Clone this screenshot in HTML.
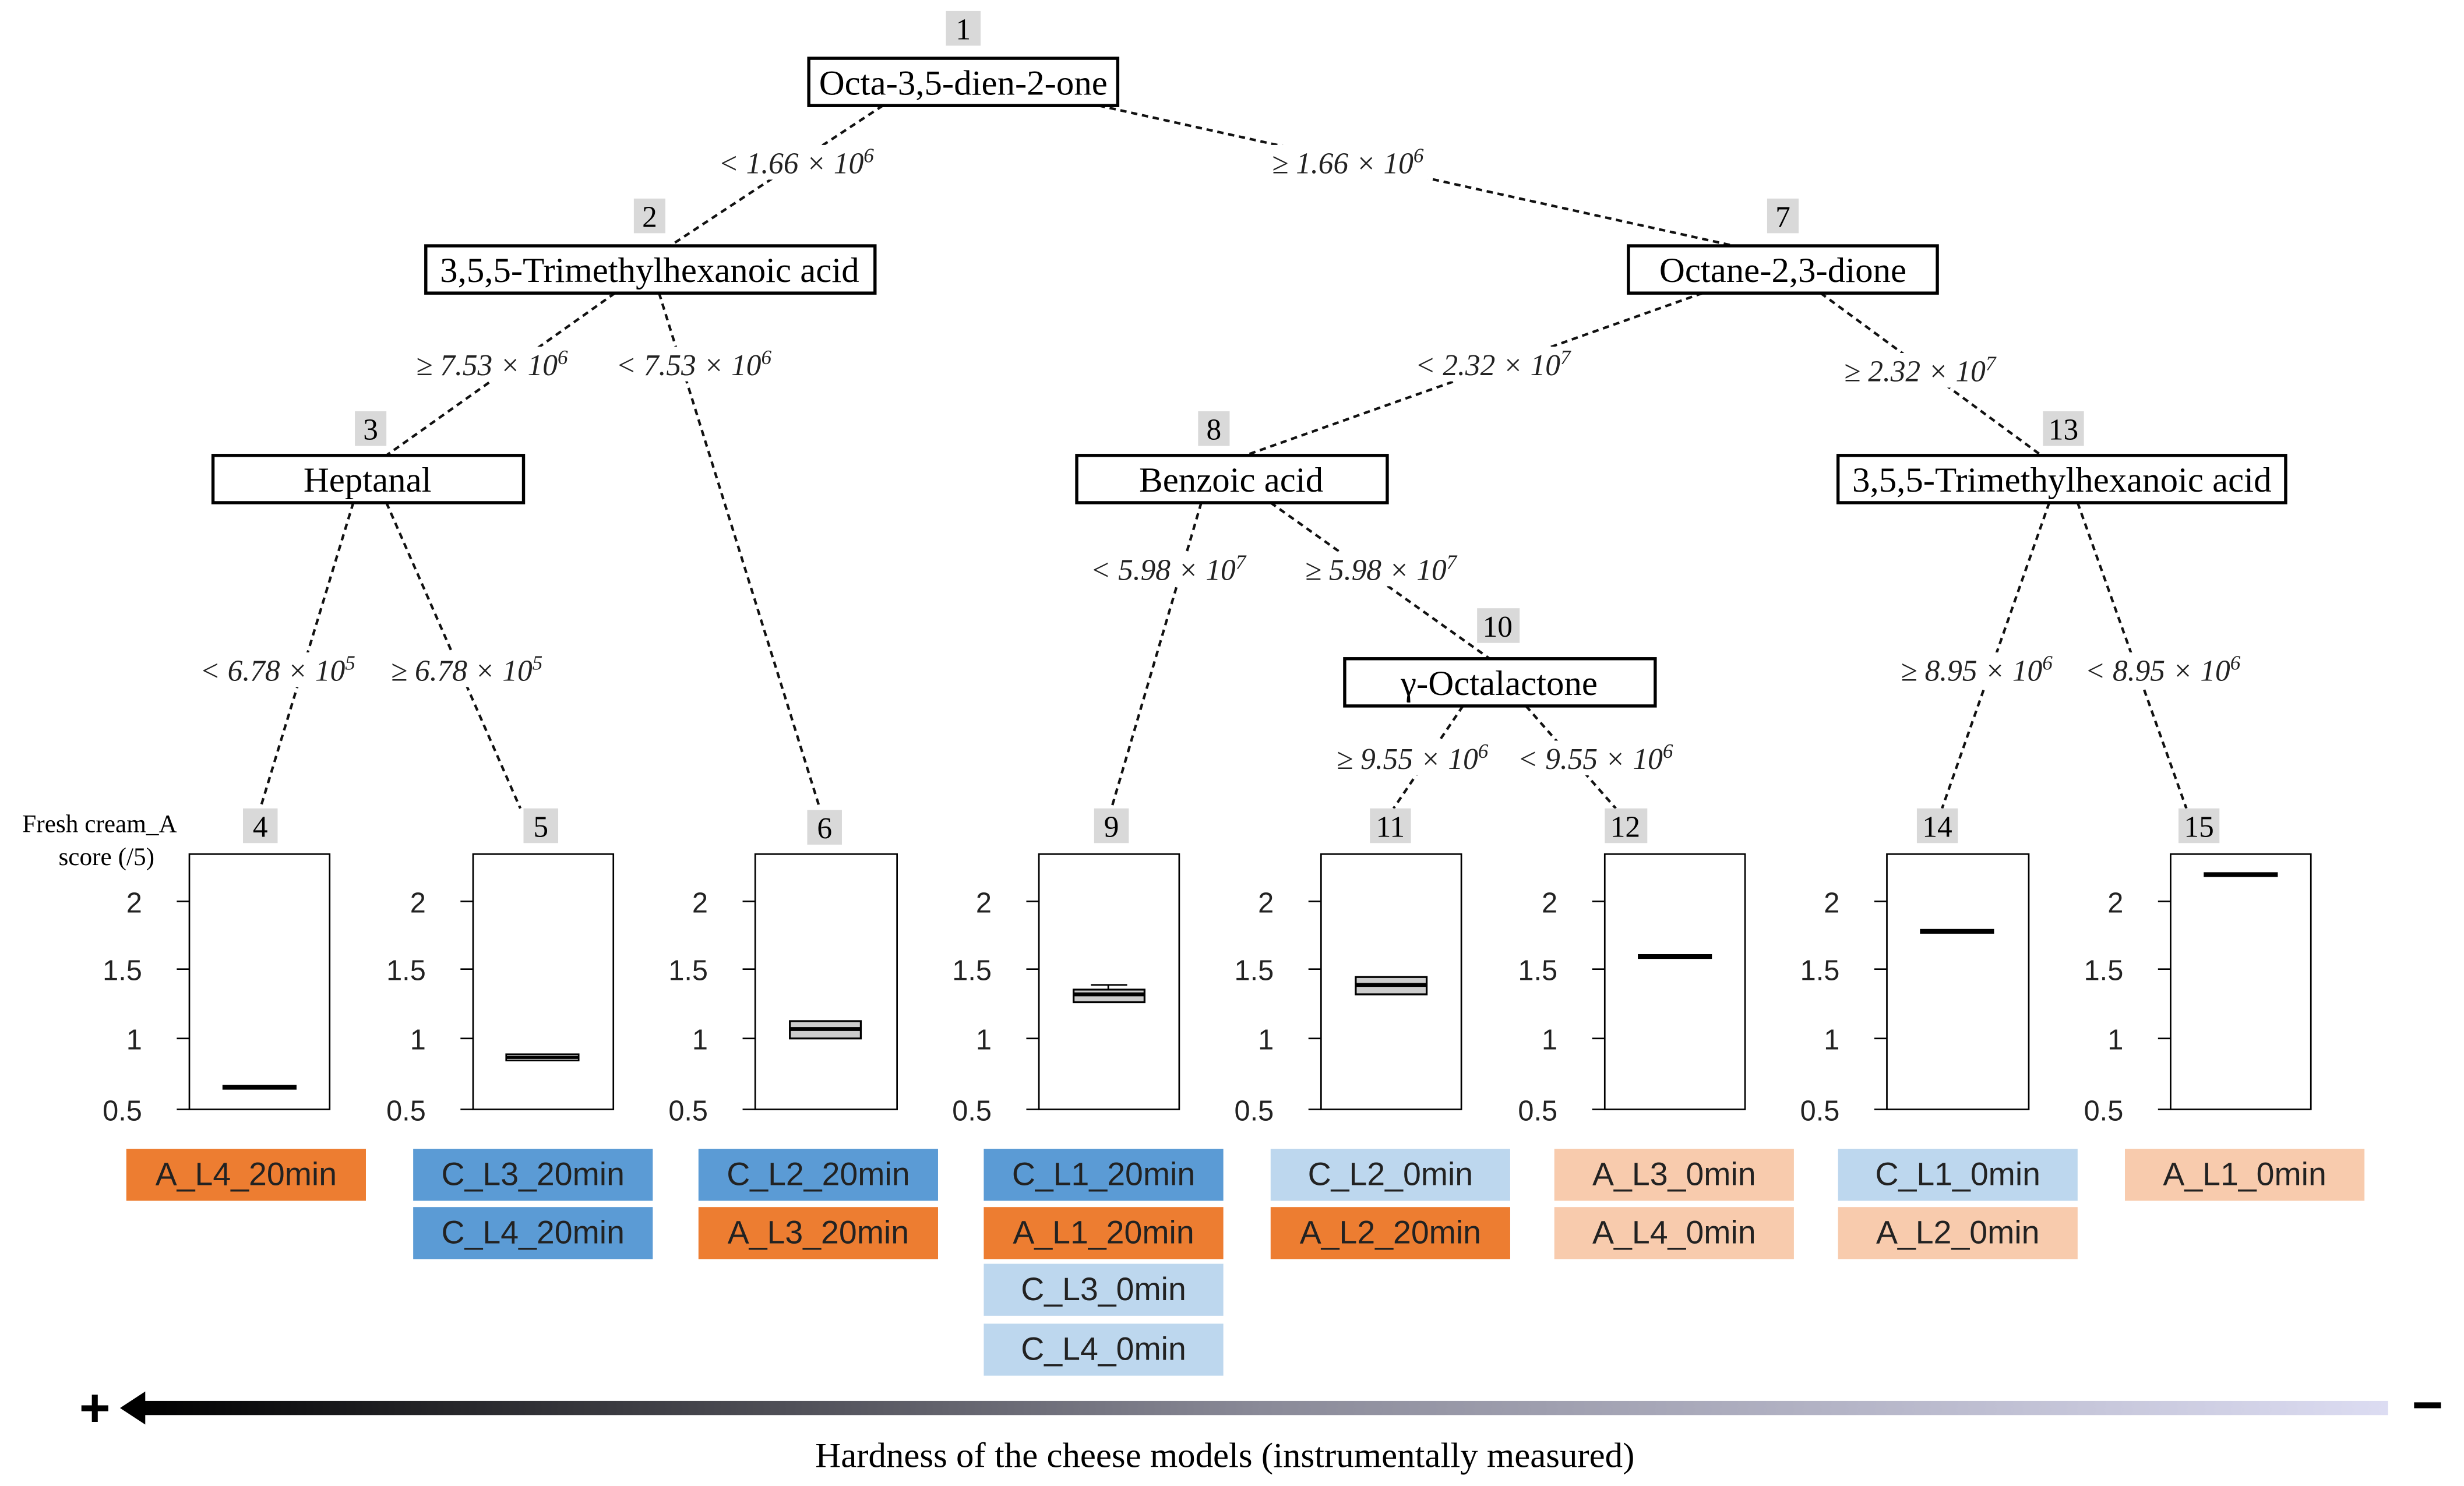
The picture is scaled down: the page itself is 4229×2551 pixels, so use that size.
<!DOCTYPE html>
<html><head><meta charset="utf-8"><style>
html,body{margin:0;padding:0;background:#fff;width:4229px;height:2551px;overflow:hidden}
svg{display:block}
.n{font-family:"Liberation Serif",serif;font-size:22.5px;text-anchor:middle}
.e{font-family:"Liberation Serif",serif;font-size:19px;font-style:italic;text-anchor:middle;fill:#222}
.num{font-family:"Liberation Serif",serif;font-size:19px;text-anchor:middle}
.t{font-family:"Liberation Sans",sans-serif;font-size:18px;text-anchor:end;fill:#222}
.s{font-family:"Liberation Sans",sans-serif;font-size:20.5px;text-anchor:middle;fill:#222}
.d{stroke:#111;stroke-width:1.6;stroke-dasharray:4 3;fill:none}
</style></head><body>
<svg width="4229" height="2551" viewBox="0 0 1563 943" xmlns="http://www.w3.org/2000/svg">
<defs><linearGradient id="g" x1="0" x2="1"><stop offset="0" stop-color="#000"/><stop offset="0.5" stop-color="#8a8a98"/><stop offset="1" stop-color="#dcdcf2"/></linearGradient></defs>
<!-- edges -->
<line class="d" x1="560" y1="67" x2="425" y2="156"/>
<line class="d" x1="697" y1="67" x2="1100" y2="156"/>
<line class="d" x1="390" y1="186" x2="245" y2="289"/>
<line class="d" x1="418" y1="186" x2="520" y2="513"/>
<line class="d" x1="224" y1="319" x2="165" y2="513"/>
<line class="d" x1="245" y1="319" x2="330" y2="513"/>
<line class="d" x1="1080" y1="186" x2="790" y2="289"/>
<line class="d" x1="1155" y1="186" x2="1295" y2="289"/>
<line class="d" x1="762" y1="319" x2="705" y2="513"/>
<line class="d" x1="806" y1="319" x2="945" y2="418"/>
<line class="d" x1="928" y1="448" x2="884" y2="513"/>
<line class="d" x1="968" y1="448" x2="1025" y2="513"/>
<line class="d" x1="1300" y1="319" x2="1232" y2="513"/>
<line class="d" x1="1318" y1="319" x2="1387" y2="513"/>
<!-- edge label backgrounds -->
<g fill="#fff">
<rect x="453" y="92" width="104" height="22"/><rect x="803" y="92" width="104" height="22"/>
<rect x="260" y="220" width="104" height="22"/><rect x="388" y="220" width="104" height="22"/>
<rect x="895" y="220" width="104" height="22"/><rect x="1166" y="224" width="104" height="22"/>
<rect x="124" y="414" width="104" height="22"/><rect x="244" y="414" width="104" height="22"/>
<rect x="689" y="350" width="104" height="22"/><rect x="824" y="350" width="104" height="22"/>
<rect x="844" y="470" width="104" height="22"/><rect x="960" y="470" width="104" height="22"/>
<rect x="1202" y="414" width="104" height="22"/><rect x="1320" y="414" width="104" height="22"/>
</g>
<text class="e" x="505" y="110">&lt; 1.66 × 10<tspan dy="-7" font-size="13">6</tspan></text>
<text class="e" x="855" y="110">≥ 1.66 × 10<tspan dy="-7" font-size="13">6</tspan></text>
<text class="e" x="312" y="238">≥ 7.53 × 10<tspan dy="-7" font-size="13">6</tspan></text>
<text class="e" x="440" y="238">&lt; 7.53 × 10<tspan dy="-7" font-size="13">6</tspan></text>
<text class="e" x="947" y="238">&lt; 2.32 × 10<tspan dy="-7" font-size="13">7</tspan></text>
<text class="e" x="1218" y="242">≥ 2.32 × 10<tspan dy="-7" font-size="13">7</tspan></text>
<text class="e" x="176" y="432">&lt; 6.78 × 10<tspan dy="-7" font-size="13">5</tspan></text>
<text class="e" x="296" y="432">≥ 6.78 × 10<tspan dy="-7" font-size="13">5</tspan></text>
<text class="e" x="741" y="368">&lt; 5.98 × 10<tspan dy="-7" font-size="13">7</tspan></text>
<text class="e" x="876" y="368">≥ 5.98 × 10<tspan dy="-7" font-size="13">7</tspan></text>
<text class="e" x="896" y="488">≥ 9.55 × 10<tspan dy="-7" font-size="13">6</tspan></text>
<text class="e" x="1012" y="488">&lt; 9.55 × 10<tspan dy="-7" font-size="13">6</tspan></text>
<text class="e" x="1254" y="432">≥ 8.95 × 10<tspan dy="-7" font-size="13">6</tspan></text>
<text class="e" x="1372" y="432">&lt; 8.95 × 10<tspan dy="-7" font-size="13">6</tspan></text>
<!-- nodes -->
<g fill="#fff" stroke="#000" stroke-width="2">
<rect x="513" y="37" width="196" height="30"/>
<rect x="270" y="156" width="285" height="30"/>
<rect x="1033" y="156" width="196" height="30"/>
<rect x="135" y="289" width="197" height="30"/>
<rect x="683" y="289" width="197" height="30"/>
<rect x="1166" y="289" width="284" height="30"/>
<rect x="853" y="418" width="197" height="30"/>
</g>
<text class="n" x="611" y="60">Octa-3,5-dien-2-one</text>
<text class="n" x="412" y="179">3,5,5-Trimethylhexanoic acid</text>
<text class="n" x="1131" y="179">Octane-2,3-dione</text>
<text class="n" x="233" y="312">Heptanal</text>
<text class="n" x="781" y="312">Benzoic acid</text>
<text class="n" x="1308" y="312">3,5,5-Trimethylhexanoic acid</text>
<text class="n" x="951" y="441">γ-Octalactone</text>
<!-- number badges -->
<g fill="#d9d9d9">
<rect x="600" y="7" width="22" height="22"/><rect x="402" y="126" width="20" height="22"/><rect x="1121" y="126" width="20" height="22"/>
<rect x="225" y="261" width="20" height="22"/><rect x="760" y="261" width="20" height="22"/><rect x="1296" y="261" width="26" height="22"/>
<rect x="937" y="386" width="27" height="22"/>
<rect x="154" y="513" width="22" height="22"/><rect x="332" y="513" width="22" height="22"/><rect x="512" y="514" width="22" height="22"/>
<rect x="694" y="513" width="22" height="22"/><rect x="869" y="513" width="26" height="22"/><rect x="1018" y="513" width="27" height="22"/>
<rect x="1216" y="513" width="26" height="22"/><rect x="1382" y="513" width="26" height="22"/>
</g>
<g class="num">
<text x="611" y="25">1</text><text x="412" y="144">2</text><text x="1131" y="144">7</text>
<text x="235" y="279">3</text><text x="770" y="279">8</text><text x="1309" y="279">13</text><text x="950" y="404">10</text>
<text x="165" y="531">4</text><text x="343" y="531">5</text><text x="523" y="532">6</text><text x="705" y="531">9</text>
<text x="882" y="531">11</text><text x="1031" y="531">12</text><text x="1229" y="531">14</text><text x="1395" y="531">15</text>
</g>
<text x="14" y="528" font-family="Liberation Serif,serif" font-size="16">Fresh cream_A</text>
<text x="37" y="549" font-family="Liberation Serif,serif" font-size="16">score (/5)</text>
<!-- plots -->
<g stroke="#000" fill="none">
<rect x="120" y="542" width="89" height="162"/>
<rect x="300" y="542" width="89" height="162"/>
<rect x="479" y="542" width="90" height="162"/>
<rect x="659" y="542" width="89" height="162"/>
<rect x="838" y="542" width="89" height="162"/>
<rect x="1018" y="542" width="89" height="162"/>
<rect x="1197" y="542" width="90" height="162"/>
<rect x="1377" y="542" width="89" height="162"/>
</g>
<g stroke="#000" stroke-width="1">
<path d="M112 572H120M112 615H120M112 659H120M112 704H120"/>
<path d="M292 572H300M292 615H300M292 659H300M292 704H300"/>
<path d="M471 572H479M471 615H479M471 659H479M471 704H479"/>
<path d="M651 572H659M651 615H659M651 659H659M651 704H659"/>
<path d="M830 572H838M830 615H838M830 659H838M830 704H838"/>
<path d="M1010 572H1018M1010 615H1018M1010 659H1018M1010 704H1018"/>
<path d="M1189 572H1197M1189 615H1197M1189 659H1197M1189 704H1197"/>
<path d="M1369 572H1377M1369 615H1377M1369 659H1377M1369 704H1377"/>
</g>
<g class="t">
<text x="90" y="579">2</text><text x="90" y="622">1.5</text><text x="90" y="666">1</text><text x="90" y="711">0.5</text>
<text x="270" y="579">2</text><text x="270" y="622">1.5</text><text x="270" y="666">1</text><text x="270" y="711">0.5</text>
<text x="449" y="579">2</text><text x="449" y="622">1.5</text><text x="449" y="666">1</text><text x="449" y="711">0.5</text>
<text x="629" y="579">2</text><text x="629" y="622">1.5</text><text x="629" y="666">1</text><text x="629" y="711">0.5</text>
<text x="808" y="579">2</text><text x="808" y="622">1.5</text><text x="808" y="666">1</text><text x="808" y="711">0.5</text>
<text x="988" y="579">2</text><text x="988" y="622">1.5</text><text x="988" y="666">1</text><text x="988" y="711">0.5</text>
<text x="1167" y="579">2</text><text x="1167" y="622">1.5</text><text x="1167" y="666">1</text><text x="1167" y="711">0.5</text>
<text x="1347" y="579">2</text><text x="1347" y="622">1.5</text><text x="1347" y="666">1</text><text x="1347" y="711">0.5</text>
</g>
<g stroke="#000">
<line x1="141" y1="690" x2="188" y2="690" stroke-width="3"/>
<rect x="321" y="669" width="46" height="4" fill="#ccc" stroke-width="1"/><line x1="321" y1="671" x2="367" y2="671" stroke-width="2"/>
<rect x="501" y="648" width="45" height="11" fill="#ccc" stroke-width="1.2"/><line x1="501" y1="653" x2="546" y2="653" stroke-width="2.5"/>
<rect x="681" y="628" width="45" height="8" fill="#ccc" stroke-width="1.2"/><line x1="681" y1="631" x2="726" y2="631" stroke-width="2.5"/><line x1="692" y1="625" x2="715" y2="625" stroke-width="1"/><line x1="703" y1="625" x2="703" y2="628" stroke-width="1"/>
<rect x="860" y="620" width="45" height="11" fill="#ccc" stroke-width="1.2"/><line x1="860" y1="625" x2="905" y2="625" stroke-width="2.5"/>
<line x1="1039" y1="607" x2="1086" y2="607" stroke-width="3"/>
<line x1="1218" y1="591" x2="1265" y2="591" stroke-width="3"/>
<line x1="1398" y1="555" x2="1445" y2="555" stroke-width="3"/>
</g>
<!-- sample labels -->
<g>
<rect x="80" y="729" width="152" height="33" fill="#ED7D31"/>
<rect x="262" y="729" width="152" height="33" fill="#5B9BD5"/><rect x="262" y="766" width="152" height="33" fill="#5B9BD5"/>
<rect x="443" y="729" width="152" height="33" fill="#5B9BD5"/><rect x="443" y="766" width="152" height="33" fill="#ED7D31"/>
<rect x="624" y="729" width="152" height="33" fill="#5B9BD5"/><rect x="624" y="766" width="152" height="33" fill="#ED7D31"/>
<rect x="624" y="802" width="152" height="33" fill="#BDD7EE"/><rect x="624" y="840" width="152" height="33" fill="#BDD7EE"/>
<rect x="806" y="729" width="152" height="33" fill="#BDD7EE"/><rect x="806" y="766" width="152" height="33" fill="#ED7D31"/>
<rect x="986" y="729" width="152" height="33" fill="#F8CBAD"/><rect x="986" y="766" width="152" height="33" fill="#F8CBAD"/>
<rect x="1166" y="729" width="152" height="33" fill="#BDD7EE"/><rect x="1166" y="766" width="152" height="33" fill="#F8CBAD"/>
<rect x="1348" y="729" width="152" height="33" fill="#F8CBAD"/>
</g>
<g class="s">
<text x="156" y="752">A_L4_20min</text>
<text x="338" y="752">C_L3_20min</text><text x="338" y="789">C_L4_20min</text>
<text x="519" y="752">C_L2_20min</text><text x="519" y="789">A_L3_20min</text>
<text x="700" y="752">C_L1_20min</text><text x="700" y="789">A_L1_20min</text>
<text x="700" y="825">C_L3_0min</text><text x="700" y="863">C_L4_0min</text>
<text x="882" y="752">C_L2_0min</text><text x="882" y="789">A_L2_20min</text>
<text x="1062" y="752">A_L3_0min</text><text x="1062" y="789">A_L4_0min</text>
<text x="1242" y="752">C_L1_0min</text><text x="1242" y="789">A_L2_0min</text>
<text x="1424" y="752">A_L1_0min</text>
</g>
<!-- gradient arrow -->
<rect x="88" y="889" width="1427" height="9" fill="url(#g)"/>
<polygon points="76,893.5 92,883 92,904" fill="#000"/>
<text x="60" y="905" font-family="Liberation Sans,sans-serif" font-size="34" font-weight="bold" text-anchor="middle">+</text>
<text x="1540" y="903" font-family="Liberation Sans,sans-serif" font-size="34" font-weight="bold" text-anchor="middle">−</text>
<text x="777" y="931" font-family="Liberation Serif,serif" font-size="22.5" text-anchor="middle">Hardness of the cheese models (instrumentally measured)</text>
</svg>
</body></html>
